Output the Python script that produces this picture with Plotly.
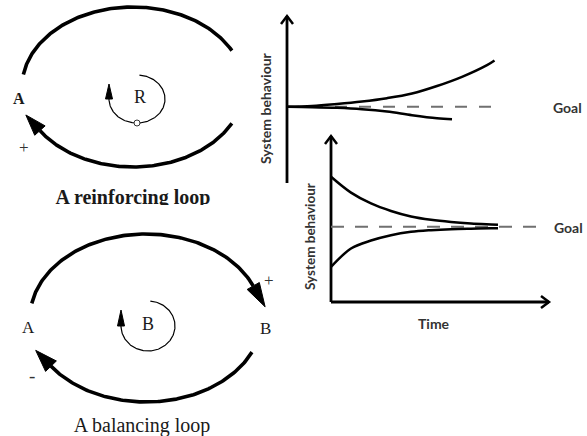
import numpy as np
import plotly.graph_objects as go

W, H = 587, 436

# ---------------- data: top-right chart (reinforcing behaviour) ----------------
grow_time = [0, 1, 2, 3, 4, 5, 6, 7, 8, 8.3]
grow_up = [4.5, 4.55, 4.67, 4.82, 5.02, 5.3, 5.75, 6.3, 7.0, 7.28]
decline_time = [0, 1, 2, 3, 4, 5, 6, 6.6]
decline = [4.5, 4.48, 4.44, 4.36, 4.22, 4.0, 3.82, 3.76]
goal1 = 4.5
goal1_time = [0, 8.6]

# ---------------- data: bottom-right chart (balancing behaviour) ----------------
bal_time = [0, 1, 2, 3, 4, 5, 6, 7, 8, 8.35]
bal_above = [7.5, 6.55, 5.9, 5.45, 5.12, 4.92, 4.79, 4.7, 4.64, 4.62]
bal_below = [2.1, 3.2, 3.68, 4.0, 4.2, 4.3, 4.36, 4.39, 4.41, 4.42]
goal2 = 4.5
goal2_time = [0, 10.3]

# text labels
loop_labels = ["A", "R", "A", "B", "B"]
captions = ["A reinforcing loop", "A balancing loop"]
ylab = "System behaviour"
xlab = "Time"
goal_lab = "Goal"

# ---------------- geometry (pixel space) ----------------
R_loop = dict(cx=133, cy=87, rx=111, ry=80)
B_loop = dict(cx=146, cy=318, rx=116, ry=84)
R_inner = dict(cx=137, cy=99, rx=28, ry=24)
B_inner = dict(cx=148, cy=326, rx=27, ry=25)

fig = go.Figure()


def arc(e, t0, t1, n=160):
    t = np.radians(np.linspace(t0, t1, n))
    return e["cx"] + e["rx"] * np.cos(t), e["cy"] + e["ry"] * np.sin(t)


def tangent(e, t):
    t = np.radians(t)
    d = np.array([-e["rx"] * np.sin(t), e["ry"] * np.cos(t)])
    return d / np.linalg.norm(d)


def add_line(x, y, width, color="black", xa="x", ya="y", dash=None, shape="linear"):
    fig.add_trace(go.Scatter(x=list(x), y=list(y), mode="lines", xaxis=xa, yaxis=ya,
                             line=dict(color=color, width=width, dash=dash, shape=shape),
                             hoverinfo="skip", showlegend=False))


def add_head(bx, by, d, L, Wd):
    n = np.array([-d[1], d[0]])
    b = np.array([bx, by])
    tip = b + L * d
    c1 = b + n * Wd / 2
    c2 = b - n * Wd / 2
    xs = [c1[0], tip[0], c2[0], c1[0]]
    ys = [c1[1], tip[1], c2[1], c1[1]]
    fig.add_trace(go.Scatter(x=xs, y=ys, mode="lines", fill="toself", fillcolor="black",
                             line=dict(color="black", width=1), hoverinfo="skip",
                             showlegend=False))


def arc_with_head(e, t0, t1, width, L, Wd, head=True):
    x, y = arc(e, t0, t1)
    add_line(x, y, width)
    if head:
        d = tangent(e, t1)
        if t1 < t0:
            d = -d
        add_head(x[-1], y[-1], d, L, Wd)


# reinforcing loop
arc_with_head(R_loop, 189, 333, 3.6, 0, 0, head=False)
arc_with_head(R_loop, 27, 147, 3.6, 21, 14)
arc_with_head(R_inner, -85, 180, 1.2, 15, 7)
fig.add_trace(go.Scatter(x=[R_inner["cx"]], y=[R_inner["cy"] + R_inner["ry"]], mode="markers",
                         marker=dict(symbol="circle", size=6, color="white",
                                     line=dict(color="#333", width=1)),
                         hoverinfo="skip", showlegend=False))

# balancing loop
arc_with_head(B_loop, 190, 337.6, 3.6, 24, 14)
arc_with_head(B_loop, 24, 145, 3.6, 22, 15)
arc_with_head(B_inner, -85, 180, 1.2, 16, 7)

# captions as text traces (first is partly hidden)
fig.add_trace(go.Scatter(x=[133, 142], y=[199, 427], mode="text", text=captions,
                         textfont=dict(family="Liberation Serif", size=[20, 20], color="#1a1a1a"),
                         texttemplate=["<b>%{text}</b>", "%{text}"],
                         hoverinfo="skip", showlegend=False))

# ---------------- chart axes (pixel space) ----------------
def chevron(tx, ty, dx, dy):
    add_line([tx + dx[0], tx, tx + dx[1]], [ty + dy[0], ty, ty + dy[1]], 2.5)

add_line([287, 287], [183, 16], 2.8)
chevron(287, 16, (-6, 6), (8, 8))
add_line([331, 331], [302, 136], 2.8)
chevron(331, 136, (-6, 6), (8, 8))
add_line([331, 549], [302, 302], 2.8)
chevron(549, 302, (-8, -8), (-6, 6))

# ---------------- chart curves (data space) ----------------
add_line(goal1_time, [goal1, goal1], 2, color="#707070", xa="x2", ya="y2", dash="12px,12px")
add_line(grow_time, grow_up, 2.5, xa="x2", ya="y2", shape="spline")
add_line(decline_time, decline, 2.5, xa="x2", ya="y2", shape="spline")

add_line(goal2_time, [goal2, goal2], 2, color="#707070", xa="x3", ya="y3", dash="13px,11px")
add_line(bal_time, bal_above, 2.5, xa="x3", ya="y3", shape="spline")
add_line(bal_time, bal_below, 2.5, xa="x3", ya="y3", shape="spline")

# ---------------- annotations ----------------
serif = "Liberation Serif"
sans = "Lato"
ann = []

def txt(x, y, s, size, family, color="#1a1a1a", angle=0):
    ann.append(dict(x=x, y=y, xref="x", yref="y", text=s, showarrow=False,
                    textangle=angle, font=dict(family=family, size=size, color=color)))

txt(19, 98, "<b>" + loop_labels[0] + "</b>", 16, serif)
txt(140, 97, loop_labels[1], 18, serif)
txt(24, 147, "+", 17, serif, "#333")
txt(28, 327, loop_labels[2], 17, serif)
txt(148, 324, loop_labels[3], 18, serif)
txt(265, 328, loop_labels[4], 17, serif)
txt(269, 280, "+", 17, serif, "#333")
txt(32, 375, "-", 19, serif, "#333")

txt(265, 108, "<b>" + ylab + "</b>", 14, sans, "#333", -90)
txt(310, 237, "<b>" + ylab + "</b>", 13.5, sans, "#333", -90)
txt(567, 107, "<b>" + goal_lab + "</b>", 14, sans, "#333")
txt(568, 227, "<b>" + goal_lab + "</b>", 14, sans, "#333")
txt(434, 323, "<b>" + xlab + "</b>", 14, sans, "#333")

# ---------------- layout ----------------
def xdom(p0, p1):
    return [p0 / W, p1 / W]

def ydom(pb, pt):
    return [1 - pb / H, 1 - pt / H]

hide = dict(visible=False, showgrid=False, zeroline=False, fixedrange=True)

fig.update_layout(
    width=W, height=H, margin=dict(l=0, r=0, t=0, b=0),
    paper_bgcolor="white", plot_bgcolor="rgba(0,0,0,0)",
    xaxis=dict(range=[0, W], domain=[0, 1], **hide),
    yaxis=dict(range=[H, 0], domain=[0, 1], **hide),
    xaxis2=dict(range=[-0.5, 10], domain=xdom(287 - 12.5, 537), anchor="y2", **hide),
    yaxis2=dict(range=[0, 10], domain=ydom(182, 182 - 167), anchor="x2", **hide),
    xaxis3=dict(range=[-0.5, 11], domain=xdom(331 - 10, 551), anchor="y3", **hide),
    yaxis3=dict(range=[0, 10], domain=ydom(302, 302 - 167), anchor="x3", **hide),
    annotations=ann,
    shapes=[dict(type="rect", xref="x", yref="y", x0=30, x1=235, y0=205, y1=220,
                 fillcolor="white", line=dict(width=0), layer="above")],
)

fig.write_html("out.html", config={"displayModeBar": False},
               post_script="document.body.style.margin='0';document.body.style.overflow='hidden';")
